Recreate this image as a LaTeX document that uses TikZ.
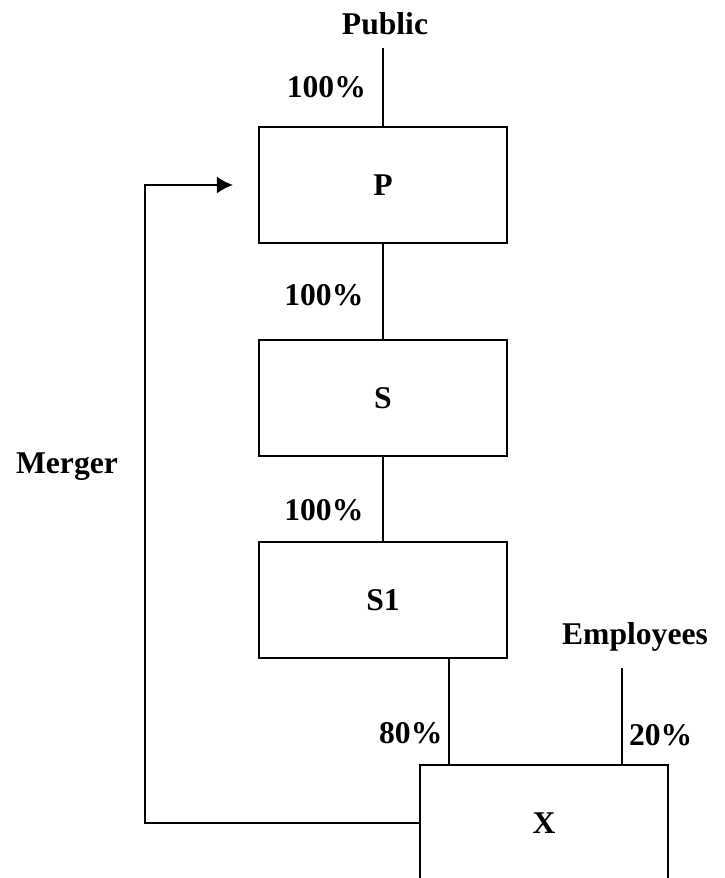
\documentclass[tikz,border=0pt]{standalone}
\usepackage{fontspec}
\setmainfont{Liberation Serif}
\usetikzlibrary{arrows.meta, positioning}
\tikzset{
  entity/.style={
    rectangle, draw=black, line width=1.2pt, fill=white,
    minimum width=4.96cm, minimum height=2.32cm,
    align=center, font=\fontsize{18}{20}\selectfont\bfseries
  },
  tag/.style={font=\fontsize{18}{20}\selectfont\bfseries, inner sep=2pt},
  own/.style={line width=1.2pt, draw=black},
  merge/.style={-{Latex[length=3.2mm,width=3.4mm]}, line width=1.2pt,
    draw=black, shorten >=0.5cm}
}
\begin{document}
\begin{tikzpicture}
  \useasboundingbox (0,0) rectangle (14.5,-17.56);

  \node[entity] (P) at (7.66,-3.70) {P};
  \node[entity, below=1.9cm of P] (S) {S};
  \node[entity, below=1.68cm of S] (S1) {S1};
  \node[entity, below=2.1cm of S1, xshift=3.22cm] (X) {X};

  \node[tag] (pub) at (7.70,-0.48) {Public};
  \node[tag] (emp) at (12.70,-12.74) {Employees};
  \node[tag] (mrg) at (1.34,-9.34) {Merger};
  \coordinate (etop) at (12.44,-13.36);
  \coordinate (loop) at (2.90,-9.00);

  \draw[own] (P.north) -- (P.north |- 0,-0.96)
    node[tag, pos=0.5, left=0.25cm] {100\%};
  \draw[own] (P) -- node[tag, left=0.3cm, yshift=-0.08cm] {100\%} (S);
  \draw[own] (S) -- node[tag, left=0.3cm, yshift=-0.22cm] {100\%} (S1);
  \draw[own] ([xshift=1.32cm]S1.south) -- ([xshift=1.32cm]S1.south |- X.north)
    node[tag, pos=0.7, left=0.04cm] {80\%};
  \draw[own] (etop) -- (etop |- X.north)
    node[tag, pos=0.7, right=0.05cm] {20\%};

  \draw[merge] (X.west) -| (loop) |- (P.west);
\end{tikzpicture}
\end{document}
